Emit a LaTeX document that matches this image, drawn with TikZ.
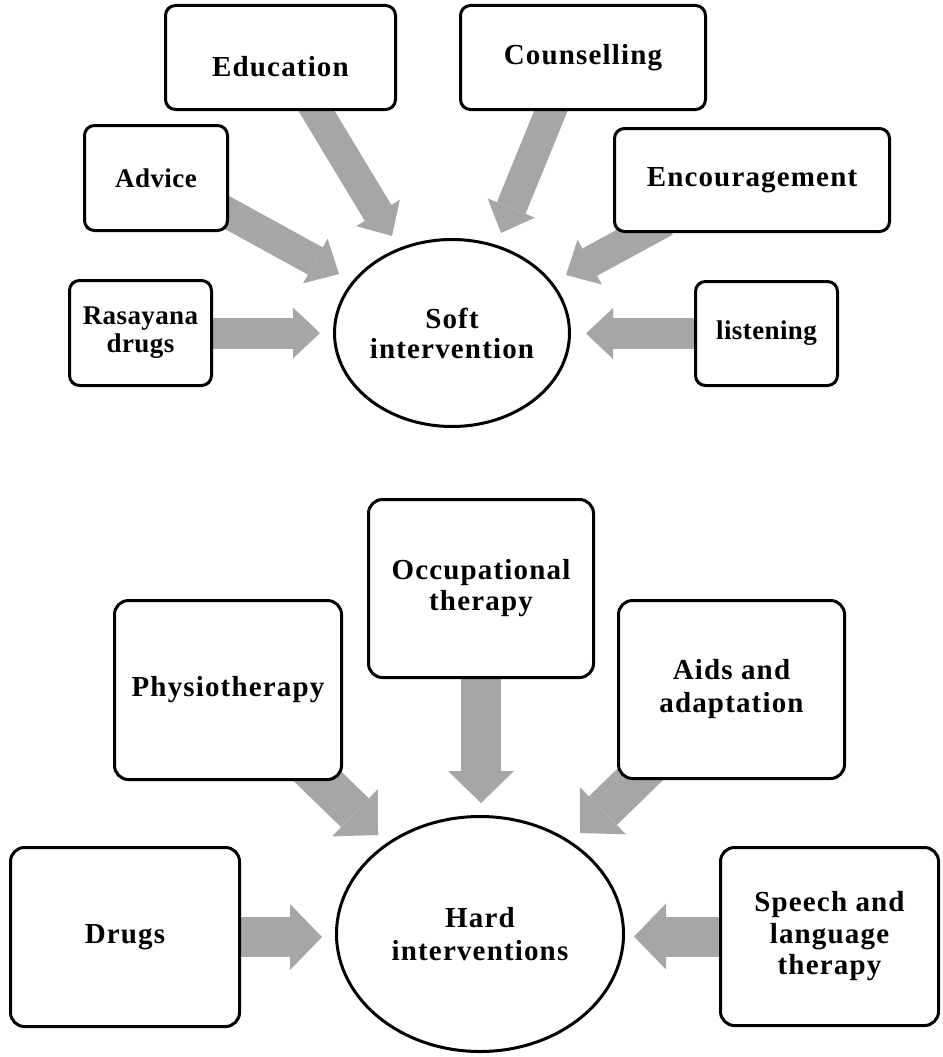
\documentclass[tikz,border=0pt]{standalone}
\usepackage{fontspec}
\setmainfont{Liberation Serif}[LetterSpace=4]
\newfontfamily\tightserif{Liberation Serif}[LetterSpace=1.5]
\usetikzlibrary{arrows.meta,shapes.geometric}
\pgfdeclarelayer{bg}
\pgfsetlayers{bg,main}
\definecolor{arrowgray}{RGB}{166,166,166}
\begin{document}
\begin{tikzpicture}[x=1pt,y=-1pt,
  box/.style={draw=black, line width=3pt, fill=white, rounded corners=10pt, inner sep=0pt,
    align=center, font=\fontsize{29}{31}\selectfont\bfseries},
  smallbox/.style={box, font=\tightserif\fontsize{27}{28}\selectfont\bfseries},
  bigbox/.style={box, rounded corners=14pt},
  oval/.style={ellipse, draw=black, line width=3pt, fill=white, inner sep=0pt,
    align=center, font=\fontsize{29}{31}\selectfont\bfseries},
  thinarrow/.style={draw=arrowgray, line width=31pt, shorten <=-25pt,
    -{Triangle[length=27pt,width=51pt,line width=0pt]}},
  widearrow/.style={draw=arrowgray, line width=40pt, shorten <=-25pt,
    -{Triangle[length=32pt,width=66pt,line width=0pt]}}]
\useasboundingbox (0,0) rectangle (942,1057);

% ---- soft interventions ----
\node[box, minimum width=230pt, minimum height=104pt] (edu) at (280.5,57.5)
  {\raisebox{-9pt}[\height][\depth]{Education}};
\node[box, minimum width=245pt, minimum height=104pt] (couns) at (583,57.5) {Counselling};
\node[smallbox, minimum width=143pt, minimum height=105pt] (advice) at (156,178) {Advice};
\node[box, minimum width=275pt, minimum height=103pt] (enc) at (752,180) {Encouragement};
\node[smallbox, minimum width=142pt, minimum height=105pt] (rasa) at (140.5,333) {Rasayana\\drugs};
\node[smallbox, minimum width=142pt, minimum height=104pt] (listen) at (766.5,333.5) {listening};
\node[oval, minimum width=235pt, minimum height=187pt,
  font=\fontsize{29}{30}\selectfont\bfseries] (soft) at (452,333) {Soft\\intervention};

\coordinate (tRasa) at (320,333);
\coordinate (tListen) at (586,333.5);
\coordinate (tAdvice) at (339,274);
\coordinate (tEdu) at (392,236);
\coordinate (tCouns) at (501,233);
\coordinate (tEnc) at (566,275);

% ---- hard interventions ----
\node[bigbox, minimum width=225pt, minimum height=178pt] (occ) at (481,588.5) {Occupational\\therapy};
\node[bigbox, minimum width=227pt, minimum height=179pt] (phys) at (228,690) {Physiotherapy};
\node[bigbox, minimum width=226pt, minimum height=178pt,
  font=\fontsize{29}{33}\selectfont\bfseries] (aids) at (731.5,689.5) {Aids and\\adaptation};
\node[bigbox, minimum width=229pt, minimum height=179pt] (drugs) at (125,937) {Drugs};
\node[bigbox, minimum width=218pt, minimum height=178pt,
  font=\fontsize{29}{31.5}\selectfont\bfseries] (speech) at (829.5,936.5) {Speech and\\language\\therapy};
\node[oval, minimum width=287pt, minimum height=235pt,
  font=\fontsize{29}{33}\selectfont\bfseries] (hard) at (480,934) {Hard\\interventions};

\coordinate (tOcc) at (481,803);
\coordinate (tPhys) at (378,835);
\coordinate (tAids) at (580,833);
\coordinate (tDrugs) at (322,937);
\coordinate (tSpeech) at (634,936.5);

\begin{pgfonlayer}{bg}
  \draw[thinarrow] (rasa.east) -- (tRasa);
  \draw[thinarrow] (listen.west) -- (tListen);
  \draw[thinarrow] (advice.-26) -- (tAdvice);
  \draw[thinarrow] (edu.-56) -- (tEdu);
  \draw[thinarrow] (couns.-121) -- (tCouns);
  \draw[thinarrow] (enc.-154) -- (tEnc);
  \draw[widearrow] (occ.south) -- (tOcc);
  \draw[widearrow] (phys.-44) -- (tPhys);
  \draw[widearrow] (aids.-137) -- (tAids);
  \draw[widearrow] (drugs.east) -- (tDrugs);
  \draw[widearrow] (speech.west) -- (tSpeech);
\end{pgfonlayer}
\end{tikzpicture}
\end{document}
